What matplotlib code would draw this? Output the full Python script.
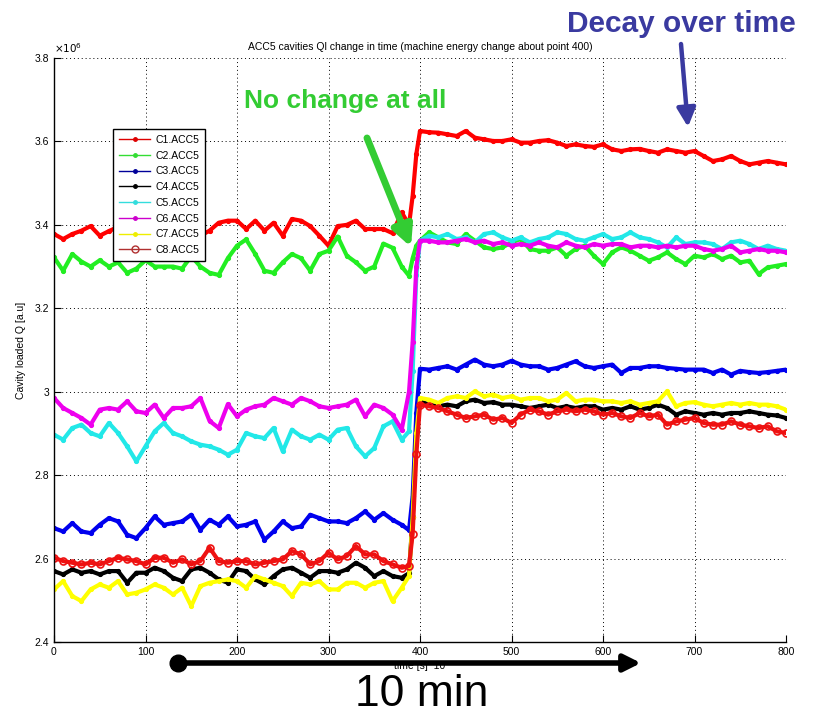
import matplotlib
matplotlib.use("Agg")
import matplotlib.pyplot as plt
from matplotlib.lines import Line2D
from matplotlib.ticker import FormatStrFormatter

# ---------------- data ----------------
time_s = list(range(0, 390, 10)) + [388, 392, 396] + list(range(400, 810, 10))

c1 = [3.378, 3.366, 3.378, 3.386, 3.397, 3.374, 3.385, 3.395, 3.380, 3.390,
      3.400, 3.385, 3.395, 3.375, 3.390, 3.380, 3.374, 3.386, 3.405, 3.410,
      3.410, 3.390, 3.410, 3.386, 3.405, 3.374, 3.414, 3.410, 3.397, 3.374,
      3.350, 3.397, 3.400, 3.410, 3.390, 3.390, 3.390, 3.380, 3.430,
      3.400, 3.470, 3.570,
      3.625, 3.622, 3.621, 3.617, 3.613, 3.625, 3.609, 3.605, 3.601, 3.601,
      3.605, 3.597, 3.597, 3.601, 3.603, 3.597, 3.589, 3.593, 3.589, 3.587,
      3.593, 3.581, 3.577, 3.581, 3.582, 3.577, 3.573, 3.581, 3.577, 3.573,
      3.577, 3.565, 3.553, 3.557, 3.565, 3.553, 3.545, 3.549, 3.553, 3.549,
      3.545]
c2 = [3.322, 3.290, 3.330, 3.312, 3.300, 3.315, 3.300, 3.310, 3.285, 3.295,
      3.315, 3.300, 3.300, 3.300, 3.295, 3.325, 3.300, 3.285, 3.280, 3.320,
      3.350, 3.365, 3.330, 3.290, 3.285, 3.310, 3.330, 3.320, 3.290, 3.330,
      3.338, 3.372, 3.326, 3.310, 3.290, 3.300, 3.355, 3.345, 3.300,
      3.278, 3.320, 3.350,
      3.362, 3.382, 3.370, 3.358, 3.354, 3.378, 3.362, 3.346, 3.342, 3.346,
      3.358, 3.366, 3.342, 3.338, 3.338, 3.346, 3.326, 3.342, 3.350, 3.326,
      3.306, 3.334, 3.346, 3.338, 3.326, 3.314, 3.322, 3.334, 3.318, 3.306,
      3.326, 3.322, 3.330, 3.318, 3.326, 3.310, 3.314, 3.282, 3.298, 3.302,
      3.306]
c3 = [2.673, 2.665, 2.685, 2.665, 2.661, 2.681, 2.697, 2.689, 2.657, 2.649,
      2.673, 2.701, 2.681, 2.685, 2.689, 2.705, 2.669, 2.693, 2.681, 2.701,
      2.677, 2.681, 2.689, 2.645, 2.665, 2.689, 2.673, 2.677, 2.705, 2.697,
      2.689, 2.689, 2.685, 2.697, 2.713, 2.693, 2.709, 2.693, 2.681,
      2.668, 2.750, 2.950,
      3.055, 3.053, 3.057, 3.061, 3.053, 3.065, 3.077, 3.065, 3.061, 3.065,
      3.074, 3.065, 3.061, 3.061, 3.053, 3.057, 3.065, 3.073, 3.061, 3.057,
      3.061, 3.065, 3.045, 3.057, 3.057, 3.061, 3.061, 3.057, 3.055, 3.053,
      3.053, 3.053, 3.045, 3.053, 3.041, 3.050, 3.047, 3.045, 3.047, 3.050,
      3.053]
c4 = [2.570, 2.562, 2.574, 2.566, 2.570, 2.562, 2.570, 2.570, 2.542, 2.566,
      2.566, 2.578, 2.570, 2.554, 2.546, 2.574, 2.578, 2.566, 2.550, 2.542,
      2.574, 2.570, 2.550, 2.538, 2.558, 2.574, 2.578, 2.566, 2.554, 2.570,
      2.570, 2.566, 2.574, 2.590, 2.578, 2.558, 2.570, 2.558, 2.554,
      2.565, 2.700, 2.900,
      2.977, 2.969, 2.965, 2.969, 2.965, 2.977, 2.981, 2.973, 2.975, 2.969,
      2.969, 2.965, 2.961, 2.965, 2.969, 2.961, 2.965, 2.961, 2.965, 2.965,
      2.957, 2.961, 2.957, 2.965, 2.957, 2.961, 2.969, 2.961, 2.945, 2.953,
      2.949, 2.945, 2.949, 2.945, 2.949, 2.949, 2.953, 2.949, 2.945, 2.943,
      2.937]
c5 = [2.897, 2.885, 2.913, 2.921, 2.901, 2.893, 2.925, 2.901, 2.869, 2.833,
      2.869, 2.905, 2.925, 2.901, 2.893, 2.881, 2.873, 2.869, 2.861, 2.849,
      2.861, 2.901, 2.893, 2.889, 2.913, 2.857, 2.909, 2.893, 2.885, 2.897,
      2.885, 2.909, 2.913, 2.869, 2.845, 2.865, 2.917, 2.929, 2.885,
      2.905, 3.050, 3.280,
      3.362, 3.374, 3.370, 3.378, 3.366, 3.370, 3.358, 3.378, 3.382, 3.370,
      3.362, 3.370, 3.358, 3.366, 3.370, 3.382, 3.378, 3.366, 3.362, 3.370,
      3.378, 3.366, 3.370, 3.382, 3.370, 3.366, 3.358, 3.346, 3.370, 3.354,
      3.358, 3.358, 3.354, 3.342, 3.358, 3.362, 3.354, 3.342, 3.350, 3.342,
      3.338]
c6 = [2.985, 2.961, 2.949, 2.937, 2.921, 2.957, 2.961, 2.957, 2.977, 2.953,
      2.949, 2.969, 2.937, 2.961, 2.961, 2.965, 2.985, 2.930, 2.913, 2.970,
      2.941, 2.957, 2.965, 2.969, 2.985, 2.977, 2.969, 2.985, 2.977, 2.965,
      2.961, 2.965, 2.969, 2.981, 2.941, 2.969, 2.961, 2.945, 2.909,
      3.000, 3.120, 3.300,
      3.362, 3.362, 3.358, 3.358, 3.362, 3.366, 3.358, 3.362, 3.354, 3.358,
      3.350, 3.354, 3.350, 3.358, 3.350, 3.346, 3.358, 3.350, 3.346, 3.354,
      3.350, 3.354, 3.354, 3.346, 3.350, 3.350, 3.346, 3.350, 3.346, 3.350,
      3.350, 3.342, 3.338, 3.342, 3.350, 3.334, 3.338, 3.342, 3.338, 3.338,
      3.334]
c7 = [2.526, 2.546, 2.510, 2.498, 2.526, 2.538, 2.530, 2.546, 2.514, 2.518,
      2.526, 2.538, 2.530, 2.514, 2.530, 2.486, 2.534, 2.542, 2.546, 2.550,
      2.546, 2.530, 2.558, 2.550, 2.542, 2.534, 2.510, 2.542, 2.538, 2.546,
      2.526, 2.526, 2.542, 2.542, 2.530, 2.542, 2.546, 2.498, 2.530,
      2.558, 2.700, 2.900,
      2.985, 2.981, 2.973, 2.985, 2.989, 2.985, 3.001, 2.989, 2.993, 2.985,
      2.989, 2.981, 2.985, 2.985, 2.977, 2.981, 2.997, 2.977, 2.981, 2.981,
      2.977, 2.977, 2.973, 2.977, 2.969, 2.973, 2.977, 3.001, 2.965, 2.973,
      2.975, 2.969, 2.965, 2.969, 2.973, 2.969, 2.973, 2.969, 2.969, 2.965,
      2.957]
c8 = [2.602, 2.594, 2.590, 2.586, 2.590, 2.586, 2.594, 2.602, 2.598, 2.594,
      2.586, 2.602, 2.602, 2.590, 2.598, 2.586, 2.594, 2.626, 2.594, 2.590,
      2.594, 2.594, 2.586, 2.590, 2.594, 2.598, 2.618, 2.610, 2.586, 2.594,
      2.614, 2.598, 2.606, 2.630, 2.610, 2.610, 2.594, 2.586, 2.578,
      2.582, 2.660, 2.850,
      2.969, 2.965, 2.961, 2.953, 2.945, 2.937, 2.941, 2.945, 2.933, 2.937,
      2.925, 2.945, 2.957, 2.953, 2.945, 2.953, 2.957, 2.953, 2.957, 2.953,
      2.945, 2.949, 2.941, 2.937, 2.949, 2.941, 2.945, 2.921, 2.929, 2.933,
      2.937, 2.925, 2.921, 2.921, 2.929, 2.921, 2.917, 2.913, 2.917, 2.905,
      2.901]

series_names = ["C1.ACC5", "C2.ACC5", "C3.ACC5", "C4.ACC5",
                "C5.ACC5", "C6.ACC5", "C7.ACC5", "C8.ACC5"]
series_values = [c1, c2, c3, c4, c5, c6, c7, c8]
series_colors = ["#ff0000", "#22ee22", "#0000ee", "#000000",
                 "#22e8e8", "#ee00ee", "#ffff00", "#ee1111"]
legend_colors = ["#dd0000", "#33dd33", "#000099", "#000000",
                 "#33dddd", "#cc00cc", "#eeee00", "#b03030"]
series_markers = [".", ".", ".", ".", ".", ".", ".", "o"]

x_ticks = [0, 100, 200, 300, 400, 500, 600, 700, 800]
y_ticks = [2.4, 2.6, 2.8, 3.0, 3.2, 3.4, 3.6, 3.8]

# ---------------- figure ----------------
plt.rcParams['font.family'] = ['Liberation Sans', 'DejaVu Sans']
W, H = 840, 713
fig = plt.figure(figsize=(W / 100, H / 100), dpi=100)
ax = fig.add_axes([54 / W, (H - 642) / H, (786 - 54) / W, (642 - 58) / H])

for vals, col, mk in zip(series_values, series_colors, series_markers):
    if mk == "o":
        ax.plot(time_s, vals, color=col, lw=3.0, marker="o", ms=5,
                mfc="none", mec=col, mew=1.2)
    else:
        ax.plot(time_s, vals, color=col, lw=3.0, marker=mk, ms=5.5)

ax.set_xlim(0, 800)
ax.set_ylim(2.4, 3.8)
ax.set_xticks(x_ticks)
ax.set_yticks(y_ticks)
ax.yaxis.set_major_formatter(FormatStrFormatter('%g'))
ax.grid(True, color="black", linestyle=(0, (1, 3)), linewidth=0.7)
for s in ["top", "right"]:
    ax.spines[s].set_visible(False)
for s in ["left", "bottom"]:
    ax.spines[s].set_linewidth(1.0)
ax.tick_params(direction="in", length=5, labelsize=7.5, width=0.8)

ax.set_title("ACC5 cavities Ql change in time (machine energy change about point 400)",
             fontsize=7.5, pad=6)
ax.set_ylabel("Cavity loaded Q [a.u]", fontsize=7.5, labelpad=6)
ax.set_xlabel("time [s]  10", fontsize=7.5, labelpad=3)
ax.text(0.0, 1.005, r"$\times 10^{6}$", transform=ax.transAxes, fontsize=7.5,
        ha="left", va="bottom")

handles = []
for name, col, mk in zip(series_names, legend_colors, series_markers):
    if mk == "o":
        h = Line2D([], [], color=col, lw=1.0, marker="o", ms=5, mfc="none", mec=col)
    else:
        h = Line2D([], [], color=col, lw=1.0, marker=".", ms=5)
    handles.append(h)
leg = ax.legend(handles, series_names, loc="upper left",
                bbox_to_anchor=((108 - 54) / 732, (642 - 124) / 584),
                fontsize=7.5, frameon=True, fancybox=False, framealpha=1,
                edgecolor="black", borderpad=0.55, labelspacing=0.55,
                handlelength=3.0, handletextpad=0.5)
leg.get_frame().set_linewidth(1.0)

# ---------------- annotations ----------------
blue = "#3a3aa0"
green = "#33cc33"
fig.text(681 / W, (H - 24) / H, "Decay over time", color=blue, fontsize=21.5,
         fontweight="bold", ha="center", va="center")
ax.annotate("", xy=(688, H - 127), xycoords="figure pixels",
            xytext=(681, H - 44), textcoords="figure pixels",
            arrowprops=dict(arrowstyle="-|>", color=blue, lw=3.2,
                            mutation_scale=28, shrinkA=0, shrinkB=0))

fig.text(345 / W, (H - 101) / H, "No change at all", color=green, fontsize=19,
         fontweight="bold", ha="center", va="center")
ax.annotate("", xy=(411, H - 247), xycoords="figure pixels",
            xytext=(367, H - 138), textcoords="figure pixels",
            arrowprops=dict(arrowstyle="-|>", color=green, lw=5,
                            mutation_scale=30, shrinkA=0, shrinkB=0))

ax.annotate("", xy=(641, 50), xycoords="figure pixels",
            xytext=(178, 50), textcoords="figure pixels",
            arrowprops=dict(arrowstyle="-|>", color="black", lw=4,
                            mutation_scale=25, shrinkA=0, shrinkB=0))
fig.add_artist(Line2D([178 / W], [50 / H], marker="o", ms=12, color="black",
                      transform=fig.transFigure))
fig.text(422 / W, 19 / H, "10 min", color="black", fontsize=32,
         ha="center", va="center")

fig.savefig("out.png", dpi=100)
